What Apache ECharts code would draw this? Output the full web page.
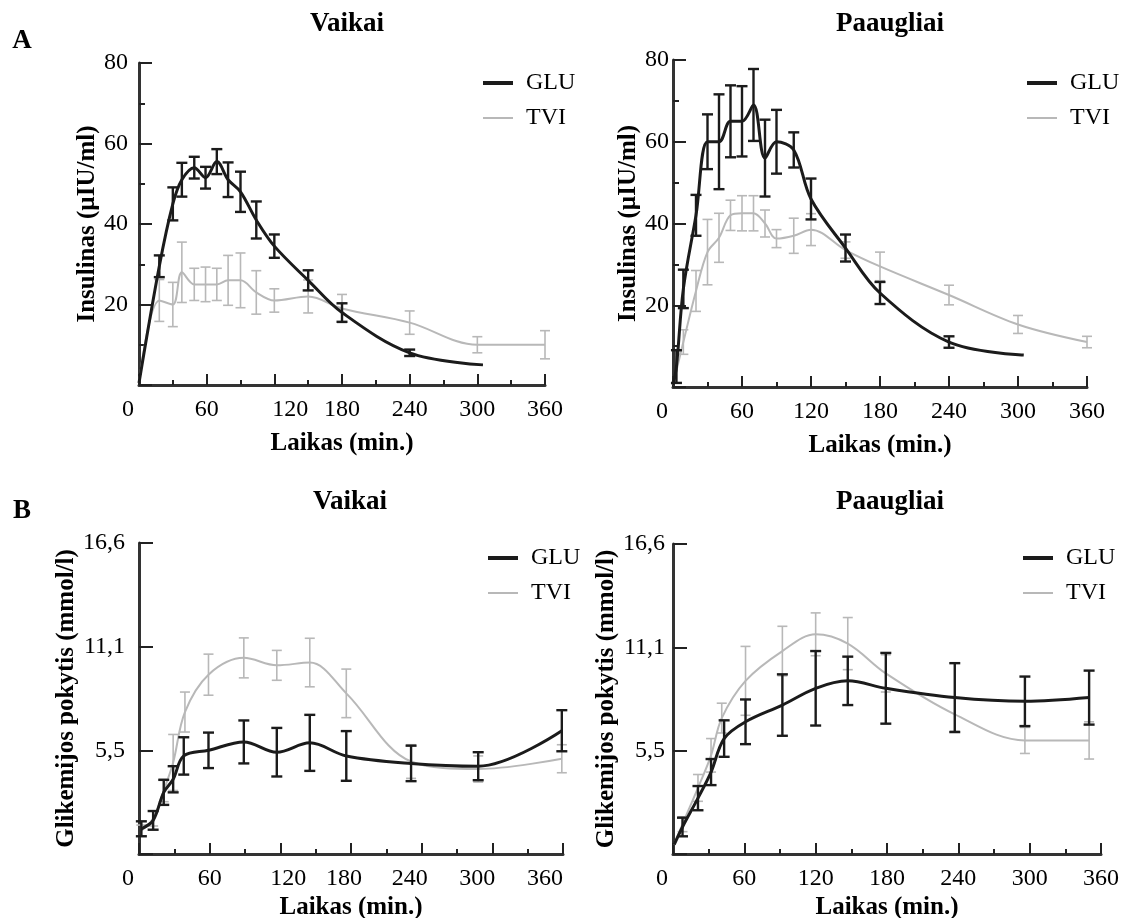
<!DOCTYPE html>
<html>
<head>
<meta charset="utf-8">
<script src="https://cdn.jsdelivr.net/npm/echarts/dist/echarts.min.js"></script>
<style>html,body{margin:0;padding:0;background:#fff}#c{width:1124px;height:918px}</style>
</head>
<body>
<div id="c"></div>
<script>
// ---------- text ----------
var panelLetters = ['A', 'B'];
var groupTitles = ['Vaikai', 'Paaugliai'];
var seriesNames = ['GLU', 'TVI'];
var xName = 'Laikas (min.)';
var yNameA = 'Insulinas (\u00b5IU/ml)';
var yNameB = 'Glikemijos pokytis (mmol/l)';
var xTickLabels = ['0', '60', '120', '180', '240', '300', '360'];
var yTickLabelsA = ['20', '40', '60', '80'];
var yTickLabelsB = ['5,5', '11,1', '16,6'];

// ---------- A: insulin, Vaikai ----------
var aVGluT = [0, 18, 30, 38, 49, 59, 69, 79, 90, 104, 120, 150, 180, 240, 305];
var aVGlu  = [0.5, 29.5, 45, 51, 54, 51.5, 55.5, 51, 48, 41, 34.5, 26, 18, 8, 5];
var aVGluE = [null, 2.7, 4.1, 4.2, 2.7, 2.7, 3.1, 4.3, 5, 4.6, 2.9, 2.5, 2.3, 0.8, null];
var aVTviT = [0, 18, 30, 38, 49, 59, 69, 79, 90, 104, 120, 150, 180, 240, 300, 360];
var aVTvi  = [0.5, 21, 20, 28, 25, 25, 25, 26, 26, 23, 21, 22, 19, 15.5, 10, 10];
var aVTviE = [null, 5.2, 5.5, 7.5, 4, 4.3, 4, 6.2, 6.8, 5.4, 2.9, 4.1, 3.5, 2.9, 2, 3.5];

// ---------- A: insulin, Paaugliai ----------
var aPGluT = [0, 3, 9, 20, 30, 40, 50, 60, 70, 80, 90, 105, 120, 150, 180, 240, 305];
var aPGlu  = [0.5, 5, 24, 42, 60, 60, 65, 65, 69, 56, 60, 58, 46, 34, 23, 11, 7.8];
var aPGluE = [null, 4, 4.7, 5, 6.7, 11.6, 8.8, 8.6, 8.8, 9.4, 7.8, 4.3, 5, 3.3, 2.7, 1.4, null];
var aPTviT = [0, 9, 20, 30, 40, 50, 60, 70, 80, 90, 105, 120, 150, 180, 240, 300, 360];
var aPTvi  = [0.5, 11, 23.5, 33, 36.5, 42, 42.5, 42.5, 40, 36.3, 37, 38.5, 33.5, 29.5, 22.5, 15.3, 11];
var aPTviE = [null, 3, 5, 8, 6, 3.7, 4.3, 4.3, 3.3, 2.2, 4.3, 3.9, 2, 3.5, 2.4, 2.2, 1.4];

// ---------- B: glycemia change, Vaikai ----------
var bVGluT = [2, 12, 21, 29, 38, 59, 89, 117, 145, 176, 231, 288, 359];
var bVGlu  = [1.35, 1.8, 3.3, 4.0, 5.25, 5.55, 6.0, 5.45, 5.95, 5.25, 4.85, 4.7, 6.6];
var bVGluE = [0.4, 0.5, 0.67, 0.7, 1.0, 0.95, 1.15, 1.3, 1.5, 1.33, 0.95, 0.75, 1.1];
var bVTviT = [2, 12, 21, 29, 39, 59, 89, 117, 145, 176, 231, 288, 359];
var bVTvi  = [1.25, 1.9, 3.4, 4.9, 7.6, 9.6, 10.5, 10.1, 10.25, 8.6, 4.95, 4.55, 5.1];
var bVTviE = [0.3, 0.4, 0.6, 1.5, 1.07, 1.1, 1.07, 0.8, 1.3, 1.3, 0.9, 0.7, 0.75];

// ---------- B: glycemia change, Paaugliai ----------
var bPGluT = [1, 8, 21, 32, 43, 61, 92, 120, 147, 179, 237, 296, 350];
var bPGlu  = [0.5, 1.45, 3.0, 4.4, 6.2, 7.1, 8.0, 8.9, 9.3, 8.9, 8.4, 8.2, 8.4];
var bPGluE = [null, 0.5, 0.65, 0.7, 0.98, 1.2, 1.65, 2.0, 1.3, 1.9, 1.85, 1.33, 1.45];
var bPTviT = [1, 8, 21, 32, 41, 61, 92, 120, 147, 179, 237, 296, 350];
var bPTvi  = [0.5, 1.6, 3.55, 5.3, 7.3, 9.3, 10.9, 11.8, 11.3, 9.7, 7.5, 6.1, 6.1];
var bPTviE = [null, 0.4, 0.72, 0.9, 0.8, 1.85, 1.33, 1.15, 1.4, 1.0, 0.9, 0.7, 1.0];

// ---------- styling / layout ----------
var FONT = '"Liberation Serif","Times New Roman",serif';
var GLU_COLOR = '#1b1b1b';
var TVI_COLOR = '#b8b8b8';
var AXIS_COLOR = '#333333';

var panels = [
  { grid: {left: 139, top: 63, width: 406, height: 322}, kind: 'A',
    glu: [aVGluT, aVGlu, aVGluE], tvi: [aVTviT, aVTvi, aVTviE],
    legend: {left: 478, top: 66}, xShift: {0: -11, 120: 16}, yMargin: 11, yNameGap: 34 },
  { grid: {left: 673, top: 60, width: 414, height: 327}, kind: 'A',
    glu: [aPGluT, aPGlu, aPGluE], tvi: [aPTviT, aPTvi, aPTviE],
    legend: {left: 1022, top: 66}, xShift: {0: -11}, yMargin: 4, yNameGap: 29 },
  { grid: {left: 139, top: 543, width: 424, height: 311}, kind: 'B',
    glu: [bVGluT, bVGlu, bVGluE], tvi: [bVTviT, bVTvi, bVTviE],
    legend: {left: 483, top: 541}, xShift: {0: -11, 120: 8, 180: -7, 240: -12, 300: -15, 360: -18}, yMargin: 14, yNameGap: 60 },
  { grid: {left: 673, top: 544, width: 428, height: 310}, kind: 'B',
    glu: [bPGluT, bPGlu, bPGluE], tvi: [bPTviT, bPTvi, bPTviE],
    legend: {left: 1018, top: 541}, xShift: {0: -11}, yMargin: 8, yNameGap: 52 }
];

function pairs(t, v) { return t.map(function (x, i) { return [x, v[i]]; }); }
function errs(t, v, e) {
  var out = [];
  t.forEach(function (x, i) { if (e[i] != null) out.push([x, v[i], e[i]]); });
  return out;
}
function errRender(color, width, cap) {
  return function (params, api) {
    var x = api.value(0), y = api.value(1), e = api.value(2);
    var top = api.coord([x, y + e]);
    var bot = api.coord([x, y - e]);
    var h = cap / 2;
    var st = {stroke: color, lineWidth: width};
    return {type: 'group', children: [
      {type: 'line', shape: {x1: top[0], y1: top[1], x2: bot[0], y2: bot[1]}, style: st},
      {type: 'line', shape: {x1: top[0] - h, y1: top[1], x2: top[0] + h, y2: top[1]}, style: st},
      {type: 'line', shape: {x1: bot[0] - h, y1: bot[1], x2: bot[0] + h, y2: bot[1]}, style: st}
    ]};
  };
}

var grids = [], xAxes = [], yAxes = [], series = [], legends = [];
panels.forEach(function (p, i) {
  grids.push(Object.assign({outerBoundsMode: 'none', containLabel: false}, p.grid));

  var rich = {};
  Object.keys(p.xShift).forEach(function (k) {
    var s = p.xShift[k];
    rich['p' + k] = {fontFamily: FONT, fontSize: 24, color: '#000',
      padding: s < 0 ? [0, -2 * s, 0, 0] : [0, 0, 0, 2 * s]};
  });
  xAxes.push({
    type: 'value', gridIndex: i, min: 0, max: 360, interval: 60,
    axisLine: {show: true, onZero: false, lineStyle: {color: AXIS_COLOR, width: 3}},
    axisTick: {show: true, inside: true, length: 11, lineStyle: {color: '#222', width: 2}},
    minorTick: {show: true, splitNumber: 2, length: 5, lineStyle: {color: '#222', width: 2}},
    splitLine: {show: false}, minorSplitLine: {show: false},
    axisLabel: {
      fontFamily: FONT, fontSize: 24, color: '#000', margin: 13, rich: rich,
      formatter: (function (shift) {
        return function (v, idx) {
          var lab = xTickLabels[idx];
          if (shift[v] != null) return '{p' + v + '|' + lab + '}';
          return lab;
        };
      })(p.xShift)
    },
    name: xName, nameLocation: 'middle', nameGap: p.kind === 'A' ? 46 : 41,
    nameTextStyle: {fontFamily: FONT, fontSize: 25, fontWeight: 'bold', color: '#000'}
  });

  var isA = p.kind === 'A';
  yAxes.push({
    type: 'value', gridIndex: i, min: 0,
    max: isA ? 80 : 16.65, interval: isA ? 20 : 5.55,
    axisLine: {show: true, onZero: false, lineStyle: {color: AXIS_COLOR, width: 3}},
    axisTick: {show: true, inside: true, length: isA ? 13 : 14, lineStyle: {color: '#222', width: 2}},
    minorTick: {show: isA, splitNumber: 2, length: 6, lineStyle: {color: '#222', width: 2}},
    splitLine: {show: false}, minorSplitLine: {show: false},
    axisLabel: {
      fontFamily: FONT, fontSize: 24, color: '#000', margin: p.yMargin,
      formatter: (function (labels) {
        return function (v, idx) { return idx === 0 ? '' : labels[idx - 1]; };
      })(isA ? yTickLabelsA : yTickLabelsB)
    },
    name: isA ? yNameA : yNameB, nameLocation: 'middle', nameGap: p.yNameGap,
    nameTextStyle: {fontFamily: FONT, fontSize: 25, fontWeight: 'bold', color: '#000'}
  });

  series.push({
    type: 'custom', xAxisIndex: i, yAxisIndex: i, z: 3,
    renderItem: errRender(TVI_COLOR, 1.6, 10),
    encode: {x: 0, y: 1}, data: errs(p.tvi[0], p.tvi[1], p.tvi[2]), silent: true
  });
  series.push({
    type: 'line', name: seriesNames[1], xAxisIndex: i, yAxisIndex: i, z: 4,
    data: pairs(p.tvi[0], p.tvi[1]), smooth: 0.35, symbol: 'none', showSymbol: false,
    lineStyle: {color: TVI_COLOR, width: 2}, itemStyle: {color: TVI_COLOR}
  });
  series.push({
    type: 'custom', xAxisIndex: i, yAxisIndex: i, z: 5,
    renderItem: errRender(GLU_COLOR, 2.4, 11),
    encode: {x: 0, y: 1}, data: errs(p.glu[0], p.glu[1], p.glu[2]), silent: true
  });
  series.push({
    type: 'line', name: seriesNames[0], xAxisIndex: i, yAxisIndex: i, z: 6,
    data: pairs(p.glu[0], p.glu[1]), smooth: 0.35, symbol: 'none', showSymbol: false,
    lineStyle: {color: GLU_COLOR, width: 3}, itemStyle: {color: GLU_COLOR}
  });

  // one legend per entry so each key line can have its own thickness
  [[seriesNames[0], 4, 0], [seriesNames[1], 2, 35]].forEach(function (it) {
    legends.push({
      orient: 'vertical', left: p.legend.left, top: p.legend.top + it[2],
      data: [it[0]], selectedMode: false, icon: 'rect',
      itemWidth: 30, itemHeight: it[1], itemGap: 0,
      textStyle: {fontFamily: FONT, fontSize: 24, color: '#000', lineHeight: 24, padding: [0, 0, 0, 8]}
    });
  });
});

function txt(x, y, s, size) {
  return {type: 'text', x: x, y: y, silent: true,
    style: {text: s, fontFamily: FONT, fontSize: size, fontWeight: 'bold', fill: '#000',
      textAlign: 'center', textVerticalAlign: 'middle', align: 'center', verticalAlign: 'middle'}};
}

var chart = echarts.init(document.getElementById('c'), null, {renderer: 'canvas'});
chart.setOption({
  animation: false,
  backgroundColor: '#ffffff',
  grid: grids, xAxis: xAxes, yAxis: yAxes, series: series, legend: legends,
  graphic: [
    txt(22, 41, panelLetters[0], 27),
    txt(22, 511, panelLetters[1], 27),
    txt(347, 24, groupTitles[0], 27),
    txt(890, 24, groupTitles[1], 27),
    txt(350, 502, groupTitles[0], 27),
    txt(890, 502, groupTitles[1], 27)
  ]
});
</script>
</body>
</html>
